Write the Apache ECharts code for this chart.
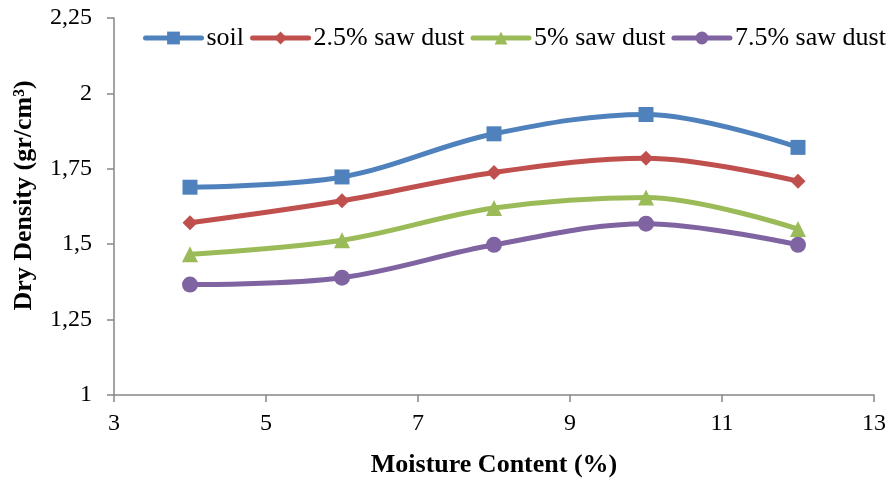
<!DOCTYPE html>
<html>
<head>
<meta charset="utf-8">
<script src="https://cdn.jsdelivr.net/npm/echarts@6/dist/echarts.min.js"></script>
<style>
  html, body { margin: 0; padding: 0; background: #fff; }
  #chart { width: 888px; height: 482px; }
</style>
</head>
<body>
<div id="chart"></div>
<script>
// Moisture content (%) at each test point
const moisture = [4, 6, 8, 10, 12];

// Dry density (gr/cm3) for each mix
const soil = [1.689, 1.723, 1.866, 1.930, 1.821];
const sawDust25 = [1.571, 1.644, 1.738, 1.785, 1.709];
const sawDust5 = [1.467, 1.513, 1.620, 1.655, 1.550];
const sawDust75 = [1.366, 1.389, 1.498, 1.568, 1.498];

const seriesNames = ['soil', '2.5% saw dust', '5% saw dust', '7.5% saw dust'];
const seriesValues = [soil, sawDust25, sawDust5, sawDust75];
const colors = ['#4F81BD', '#C0504D', '#9BBB59', '#8064A2'];
const symbols = ['rect', 'diamond', 'triangle', 'circle'];
const symbolSizes = [15, 15, 16, 16];

const font = '"Liberation Serif", "Times New Roman", serif';

const chart = echarts.init(document.getElementById('chart'));

chart.setOption({
  animation: false,
  backgroundColor: '#ffffff',
  color: colors,
  grid: { left: 114, right: 14, top: 18, bottom: 87, containLabel: false, outerBoundsMode: 'none' },
  legend: {
    top: 25,
    left: 143,
    width: 745,
    padding: 0,
    itemWidth: 56,
    itemHeight: 16,
    itemGap: 6,
    lineStyle: { width: 5 },
    textStyle: { fontFamily: font, fontSize: 26, color: '#000' },
    data: seriesNames
  },
  xAxis: {
    type: 'value',
    min: 3,
    max: 13,
    interval: 2,
    name: 'Moisture Content (%)',
    nameLocation: 'middle',
    nameGap: 57,
    nameTextStyle: { fontFamily: font, fontSize: 26, fontWeight: 'bold', color: '#000' },
    axisLine: { lineStyle: { color: '#868686', width: 1.5 } },
    axisTick: { show: true, length: 7, lineStyle: { color: '#868686', width: 1.5 } },
    axisLabel: { fontFamily: font, fontSize: 24, color: '#000', margin: 17 },
    splitLine: { show: false }
  },
  yAxis: {
    type: 'value',
    min: 1,
    max: 2.25,
    interval: 0.25,
    name: 'Dry Density (gr/cm³)',
    nameLocation: 'middle',
    nameGap: 77,
    nameTextStyle: { fontFamily: font, fontSize: 26, fontWeight: 'bold', color: '#000', padding: [0, 0, 0, 22] },
    axisLine: { show: true, lineStyle: { color: '#868686', width: 1.5 } },
    axisTick: { show: true, length: 7, lineStyle: { color: '#868686', width: 1.5 } },
    axisLabel: {
      fontFamily: font, fontSize: 24, color: '#000', margin: 22,
      formatter: v => String(Math.round(v * 100) / 100).replace('.', ',')
    },
    splitLine: { show: false }
  },
  series: seriesNames.map((name, i) => ({
    name: name,
    type: 'line',
    smooth: 0.35,
    symbol: symbols[i],
    symbolSize: symbolSizes[i],
    lineStyle: { width: 5, color: colors[i], cap: 'round' },
    itemStyle: { color: colors[i] },
    data: moisture.map((m, j) => [m, seriesValues[i][j]])
  }))
});
</script>
</body>
</html>
